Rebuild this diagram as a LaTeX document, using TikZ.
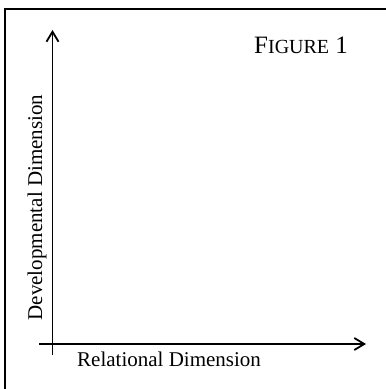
\documentclass[tikz,border=0pt]{standalone}
\usepackage{fontspec}
\setmainfont{Liberation Serif}
\usetikzlibrary{arrows.meta}
\tikzset{
  axis/.style={line width=1.8pt, -{Straight Barb[length=10pt,width=12pt,line width=1.8pt]}},
  frameline/.style={line width=1.6pt},
  lbl/.style={inner sep=0pt, font=\fontsize{21}{24}\selectfont},
  title/.style={inner sep=0pt, font=\fontsize{25}{28}\selectfont}
}
\begin{document}
\begin{tikzpicture}[x=1pt,y=1pt]
\useasboundingbox (0,0) rectangle (386,389);
% frame (left and top edges)
\coordinate (fb) at (5,0);
\coordinate (fc) at (5,380);
\coordinate (fr) at (386,380);
\draw[frameline] (fb) -- (fc) -- (fr);
% axes
\coordinate (vstart) at (52.5,34);
\coordinate (vend) at (52.5,359);
\coordinate (hstart) at (39,45);
\coordinate (hend) at (366,45);
\draw[axis] (vstart) -- (vend);
\draw[axis] (hstart) -- (hend);
% labels
\node[title, anchor=base west] (fig) at (254,335) {F{\fontsize{20}{22}\selectfont IGURE} 1};
\node[lbl, anchor=base, rotate=90] (dev) at (42,181.5) {Developmental Dimension};
\node[lbl, anchor=base west] (rel) at (77,22) {Relational Dimension};
\end{tikzpicture}
\end{document}
